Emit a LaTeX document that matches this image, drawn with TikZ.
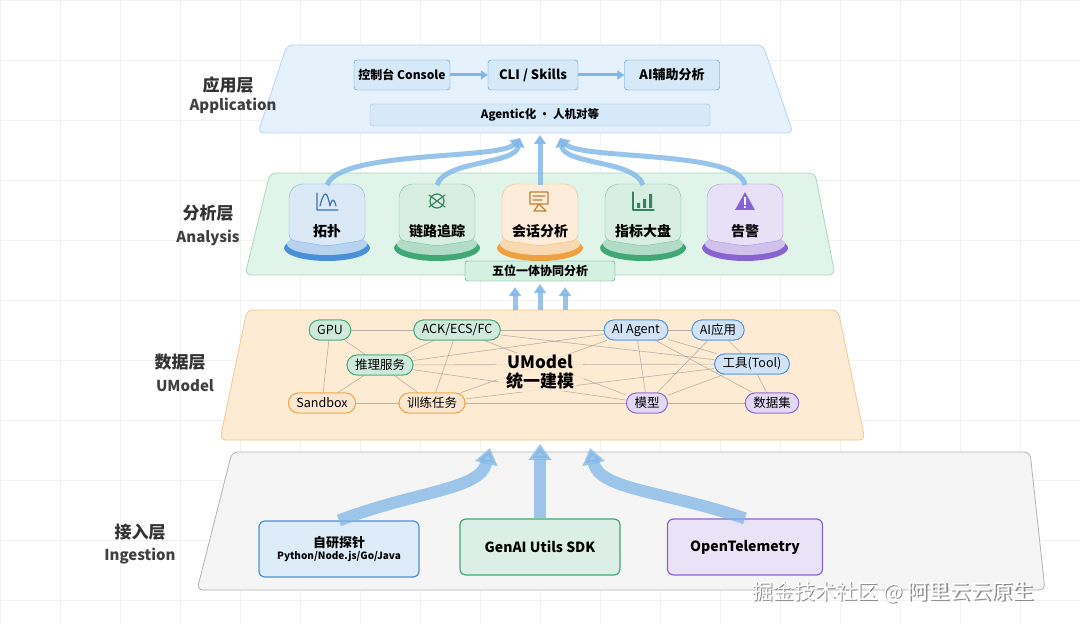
\documentclass[tikz,border=0pt]{standalone}
\usepackage{fontspec}
\setmainfont{Noto Sans CJK SC}
\usetikzlibrary{arrows.meta,shapes.geometric,calc}
\definecolor{bl}{HTML}{4A90D9}\definecolor{blf}{HTML}{D6E9F8}
\definecolor{gr}{HTML}{3FA873}\definecolor{grf}{HTML}{D3F0E0}
\definecolor{orr}{HTML}{F0A040}\definecolor{orf}{HTML}{FCE3C2}
\definecolor{pu}{HTML}{8A63D2}\definecolor{puf}{HTML}{E3D9F6}
\definecolor{ar}{HTML}{7FB6E6}
\begin{document}
\begin{tikzpicture}[x=1pt,y=-1pt,
 plat/.style={draw=#1,line width=0.8pt,rounded corners=6pt},
 lbl/.style={font=\bfseries\fontsize{17}{18}\selectfont,text=black!80},
 lbls/.style={font=\bfseries\fontsize{15}{16}\selectfont,text=black!75},
 box/.style={draw=#1,fill=#1!18,rounded corners=6pt,line width=1.2pt,font=\bfseries\fontsize{12}{13}\selectfont,inner sep=4pt,minimum height=26pt},
 pill/.style={draw=#1,fill=#1!25,rounded corners=10pt,line width=0.8pt,font=\fontsize{12.5}{13}\selectfont,minimum height=20pt,inner xsep=8pt,inner ysep=2pt},
 ln/.style={draw=gray,line width=0.6pt,opacity=0.55},
 bigar/.style={-{Triangle[width=22pt,length=16pt]},line width=12pt,draw=ar,opacity=0.75},
 smar/.style={-{Triangle[width=12pt,length=9pt]},line width=5pt,draw=ar,opacity=0.8},
 ic/.style={line width=1.2pt,line cap=round,line join=round},
]
\useasboundingbox (0,0) rectangle (1080,623);
\fill[white] (0,0) rectangle (1080,623);
\foreach \x in {0,60,...,1080} \draw[black!5] (\x,0)--(\x,623);
\foreach \y in {0,60,...,600} \draw[black!5] (0,\y)--(1080,\y);
% ingestion layer
\filldraw[plat=black!30,fill=black!4] (232,452)--(1030,452)--(1045,590)--(197,590)--cycle;
\node[lbl] (l4a) at (140,532) {接入层};
\node[lbls] (l4b) at (140,556) {Ingestion};
\node[box=bl,minimum width=160pt,minimum height=56pt,align=center] (i1) at (339,549) {\fontsize{13}{15}\selectfont 自研探针\\[-1pt]\fontsize{10}{12}\selectfont Python/Node.js/Go/Java};
\node[box=gr,minimum width=160pt,minimum height=56pt,font=\bfseries\fontsize{14}{15}\selectfont] (i2) at (540,547) {GenAI Utils SDK};
\node[box=pu,minimum width=155pt,minimum height=56pt,font=\bfseries\fontsize{14}{15}\selectfont] (i3) at (745,547) {OpenTelemetry};
\coordinate (d1) at (490,448);\coordinate (d2) at (540,444);\coordinate (d3) at (590,448);
\draw[bigar] (i1.north) .. controls (420,490) and (480,490) .. (d1);
\draw[bigar] (i2.north) -- (d2);
\draw[bigar] (i3.north) .. controls (660,490) and (600,490) .. (d3);
% data layer
\filldraw[plat=orr!60,fill=orf!70] (247,310)--(838,310)--(865,440)--(220,440)--cycle;
\node[lbl] (l3a) at (180,362) {数据层};
\node[lbls] (l3b) at (185,386) {UModel};
\node[pill=gr] (gpu) at (330,330) {GPU};
\node[pill=gr] (ack) at (457,330) {ACK/ECS/FC};
\node[pill=bl] (aga) at (636,330) {AI Agent};
\node[pill=bl] (aap) at (718,330) {AI应用};
\node[pill=gr] (inf) at (380,365) {推理服务};
\node[pill=bl] (tool) at (752,364) {工具(Tool)};
\node[pill=orr] (sb) at (322,403) {Sandbox};
\node[pill=orr] (tr) at (432,403) {训练任务};
\node[pill=pu] (mod) at (647,403) {模型};
\node[pill=pu] (ds) at (772,403) {数据集};
\foreach \a/\b in {gpu/ack,gpu/inf,gpu/sb,ack/inf,ack/tr,inf/sb,inf/tr,sb/tr,tr/mod,mod/ds,aga/aap,aga/tool,aga/mod,aga/ds,aap/tool,aap/mod,tool/ds,tool/mod,ack/aga,inf/aga,inf/tool,inf/mod,tr/aga,tr/tool,ack/tool,ack/mod}
 \draw[ln] (\a)--(\b);
\node[pill=gr] at (330,330) {GPU};
\node[pill=gr] at (457,330) {ACK/ECS/FC};
\node[pill=bl] at (636,330) {AI Agent};
\node[pill=bl] at (718,330) {AI应用};
\node[pill=gr] at (380,365) {推理服务};
\node[pill=bl] at (752,364) {工具(Tool)};
\node[pill=orr] at (322,403) {Sandbox};
\node[pill=orr] at (432,403) {训练任务};
\node[pill=pu] at (647,403) {模型};
\node[pill=pu] at (772,403) {数据集};
\fill[orf!70,opacity=0.85] (540,372) ellipse (46pt and 22pt);
\node[font=\bfseries\fontsize{17}{19}\selectfont,align=center] (um) at (540,372) {UModel\\统一建模};
% analysis layer
\filldraw[plat=gr!45,fill=grf!70] (270,173)--(815,173)--(835,275)--(245,275)--cycle;
\node[lbl] (l2a) at (208,213) {分析层};
\node[lbls] (l2b) at (208,238) {Analysis};
\coordinate (a1) at (515,287);\coordinate (a2) at (540,284);\coordinate (a3) at (565,287);
\draw[smar] (515,310)--(a1);
\draw[smar] (540,310)--(a2);
\draw[smar] (565,310)--(a3);
\foreach \x/\c/\t/\n in {327/bl/拓扑/c1,437/gr/链路追踪/c2,540/orr/会话分析/c3,643/gr/指标大盘/c4,745/pu/告警/c5}{
 \fill[\c] (\x,248) ellipse (43pt and 13pt);
 \fill[\c!40] (\x,244) ellipse (40pt and 11pt);
 \filldraw[draw=\c!70,fill=\c!20,rounded corners=6pt] (\x-38,192)--(\x-30,184)--(\x+30,184)--(\x+38,192)--(\x+38,240)--(\x,246)--(\x-38,240)--cycle;
 \node[font=\bfseries\fontsize{14}{15}\selectfont] (\n) at (\x,231) {\t};
}
\node[draw=gr,fill=grf,rounded corners=3pt,minimum width=150pt,minimum height=20pt,font=\bfseries\fontsize{12}{13}\selectfont] (fw) at (540,271) {五位一体协同分析};
% icons
\draw[ic,bl!80!black] (317,193)--(317,210)--(338,210) (320,206)..controls (324,190) and (327,190)..(330,206) (330,206)..controls (332,198) and (334,198)..(336,206);
\draw[ic,gr!80!black] (437,201) circle (7pt) (429,195)--(445,207) (429,207)--(445,195);
\draw[ic,orr!80!black] (530,192) rectangle (548,204) (533,196)--(545,196) (533,200)--(542,200) (539,204)--(534,211)--(546,211)--cycle;
\draw[ic,gr!80!black] (633,192)--(633,210)--(654,210);
\fill[gr!80!black] (637,203) rectangle (640,208) (643,199) rectangle (646,208) (649,194) rectangle (652,208);
\fill[pu] (735,210)--(745,192)--(755,210)--cycle;
\fill[white] (744.2,197) rectangle (745.8,205) (744.2,206.5) rectangle (745.8,208);
% application layer
\filldraw[plat=bl!40,fill=blf!60] (287,45)--(763,45)--(793,133)--(258,133)--cycle;
\node[lbl] (l1a) at (228,85) {应用层};
\node[lbls] (l1b) at (233,106) {Application};
\node[draw=bl,fill=blf,rounded corners=3pt,minimum width=96pt,minimum height=30pt,font=\bfseries\fontsize{12}{13}\selectfont] (p1) at (402,75) {控制台 Console};
\node[draw=bl,fill=blf,rounded corners=3pt,minimum width=90pt,minimum height=30pt,font=\bfseries\fontsize{13}{14}\selectfont] (p2) at (533,75) {CLI / Skills};
\node[draw=bl,fill=blf,rounded corners=3pt,minimum width=95pt,minimum height=30pt,font=\bfseries\fontsize{13}{14}\selectfont] (p3) at (672,75) {AI辅助分析};
\draw[-{Triangle[width=9pt,length=7pt]},line width=3pt,ar] (p1)--(p2);
\draw[-{Triangle[width=9pt,length=7pt]},line width=3pt,ar] (p2)--(p3);
\node[draw=bl!60,fill=blf,rounded corners=3pt,minimum width=340pt,minimum height=22pt,font=\bfseries\fontsize{11.5}{13}\selectfont] (ag) at (540,115) {Agentic化 · 人机对等};
\coordinate (b1) at (520,138);\coordinate (b2) at (540,135);\coordinate (b3) at (560,138);
\draw[smar] (327,185) .. controls (340,150) and (500,160) .. (b1);
\draw[smar] (437,185) .. controls (445,160) and (515,165) .. (b1);
\draw[smar] (540,185) -- (b2);
\draw[smar] (643,185) .. controls (635,160) and (565,165) .. (b3);
\draw[smar] (745,185) .. controls (740,150) and (580,160) .. (b3);
\node[text=black!45,font=\fontsize{21}{22}\selectfont] at (894.5,593.5) {掘金技术社区 @ 阿里云云原生};
\node[text=white,font=\fontsize{21}{22}\selectfont] (wm) at (893,592) {掘金技术社区 @ 阿里云云原生};
\end{tikzpicture}
\end{document}
